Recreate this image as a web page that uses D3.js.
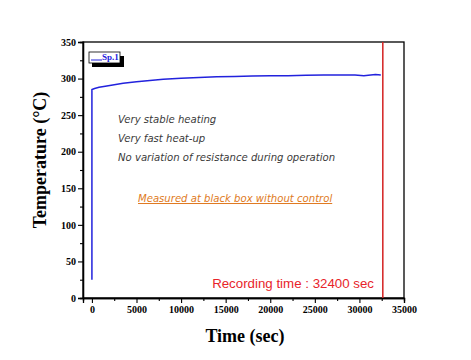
<!DOCTYPE html>
<html><head><meta charset="utf-8">
<script src="https://cdn.jsdelivr.net/npm/d3@7"></script>
<style>body{margin:0;background:#fff}svg{display:block}</style>
</head><body>
<script>
const timeSec = [0, 0, 300, 800, 1500, 2500, 3500, 5000, 6500, 8000, 10000, 12000, 14000, 16000, 18000, 20000, 22000, 24000, 26000, 28000, 29500, 30500, 31000, 31800, 32400];
const tempC   = [25, 285, 286.5, 288, 289.5, 291.5, 293.5, 295.5, 297.5, 299, 300.5, 301.5, 302.5, 303, 303.5, 304, 304, 304.5, 305, 305, 305, 304, 304.5, 305.5, 305];
const xTicks = [0, 5000, 10000, 15000, 20000, 25000, 30000, 35000];
const yTicks = [0, 50, 100, 150, 200, 250, 300, 350];
const recordTime = 32400;
const notes = ["Very stable heating", "Very fast heat-up", "No variation of resistance during operation"];
const noteMeasured = "Measured at black box without control";
const seriesName = "Sp.1";

const W = 471, H = 360;
const m = {l: 83, r: 67, t: 42, b: 62};
const svg = d3.select("body").append("svg").attr("width", W).attr("height", H);
svg.append("rect").attr("width", W).attr("height", H).attr("fill", "#fff");

const x = d3.scaleLinear().domain([-1000, 35000]).range([m.l, W - m.r]);
const y = d3.scaleLinear().domain([0, 350]).range([H - m.b, m.t]);

svg.append("rect").attr("x", m.l).attr("y", m.t).attr("width", W - m.r - m.l).attr("height", H - m.b - m.t)
  .attr("fill", "none").attr("stroke", "#000").attr("stroke-width", 1.3);

const serif = "'Liberation Serif','Times New Roman',serif";
svg.append("g").attr("transform", `translate(0,${H - m.b})`)
  .call(d3.axisBottom(x).tickValues(xTicks).tickSize(5).tickPadding(3).tickFormat(d3.format("d")));
svg.append("g").attr("transform", `translate(0,${H - m.b})`)
  .call(d3.axisBottom(x).tickValues(d3.range(2500, 35000, 5000)).tickSize(3).tickFormat(""));
svg.append("g").attr("transform", `translate(${m.l},0)`)
  .call(d3.axisLeft(y).tickValues(yTicks).tickSize(5).tickPadding(2));
svg.append("g").attr("transform", `translate(${m.l},0)`)
  .call(d3.axisLeft(y).tickValues(d3.range(25, 350, 50)).tickSize(3).tickFormat(""));
svg.selectAll(".domain").attr("stroke", "#000").attr("stroke-width", 1.3);
svg.selectAll(".tick line").attr("stroke", "#000").attr("stroke-width", 1.1);
svg.selectAll(".tick text").attr("font-family", serif).attr("font-weight", "bold").attr("font-size", 10).attr("fill", "#000");

svg.append("text").attr("x", 245).attr("y", 342).attr("text-anchor", "middle")
  .attr("font-family", serif).attr("font-weight", "bold").attr("font-size", 18).text("Time (sec)");
svg.append("text").attr("transform", "translate(46,160) rotate(-90)").attr("text-anchor", "middle")
  .attr("font-family", serif).attr("font-weight", "bold").attr("font-size", 18).text("Temperature (\u00B0C)");

const line = d3.line().x((d, i) => x(timeSec[i])).y((d, i) => y(tempC[i]));
svg.append("path").datum(tempC).attr("d", line).attr("fill", "none")
  .attr("stroke", "#2222dd").attr("stroke-width", 1.5);

svg.append("line").attr("x1", x(recordTime) + 2).attr("x2", x(recordTime) + 2)
  .attr("y1", m.t).attr("y2", H - m.b).attr("stroke", "#d42020").attr("stroke-width", 1.5);
svg.append("text").attr("x", 374).attr("y", 288).attr("text-anchor", "end")
  .attr("font-family", "'Liberation Sans',Arial,sans-serif").attr("font-size", 13.3).attr("fill", "#e8242a")
  .text("Recording time : " + recordTime + " sec");

// legend
svg.append("rect").attr("x", 92).attr("y", 56).attr("width", 32).attr("height", 11).attr("fill", "#000");
svg.append("rect").attr("x", 89).attr("y", 52).attr("width", 31).attr("height", 11).attr("fill", "#fff")
  .attr("stroke", "#000").attr("stroke-width", 0.8);
svg.append("line").attr("x1", 91).attr("x2", 102).attr("y1", 60).attr("y2", 60).attr("stroke", "#2222dd").attr("stroke-width", 1);
svg.append("text").attr("x", 102).attr("y", 60).attr("font-family", serif).attr("font-weight", "bold")
  .attr("font-size", 9).attr("fill", "#2222dd").text(seriesName);

svg.selectAll("text.note").data(notes).enter().append("text").attr("class", "note")
  .attr("x", 118).attr("y", (d, i) => 123 + i * 19)
  .attr("font-family", "'DejaVu Sans',Verdana,sans-serif").attr("font-style", "italic")
  .attr("font-size", 10.1).attr("fill", "#3a3a3a").text(d => d);
svg.append("text").attr("x", 138).attr("y", 202)
  .attr("font-family", "'DejaVu Sans',Verdana,sans-serif").attr("font-style", "italic")
  .attr("font-size", 10.1).attr("fill", "#e07a22").attr("text-decoration", "underline").text(noteMeasured);
</script>
</body></html>
